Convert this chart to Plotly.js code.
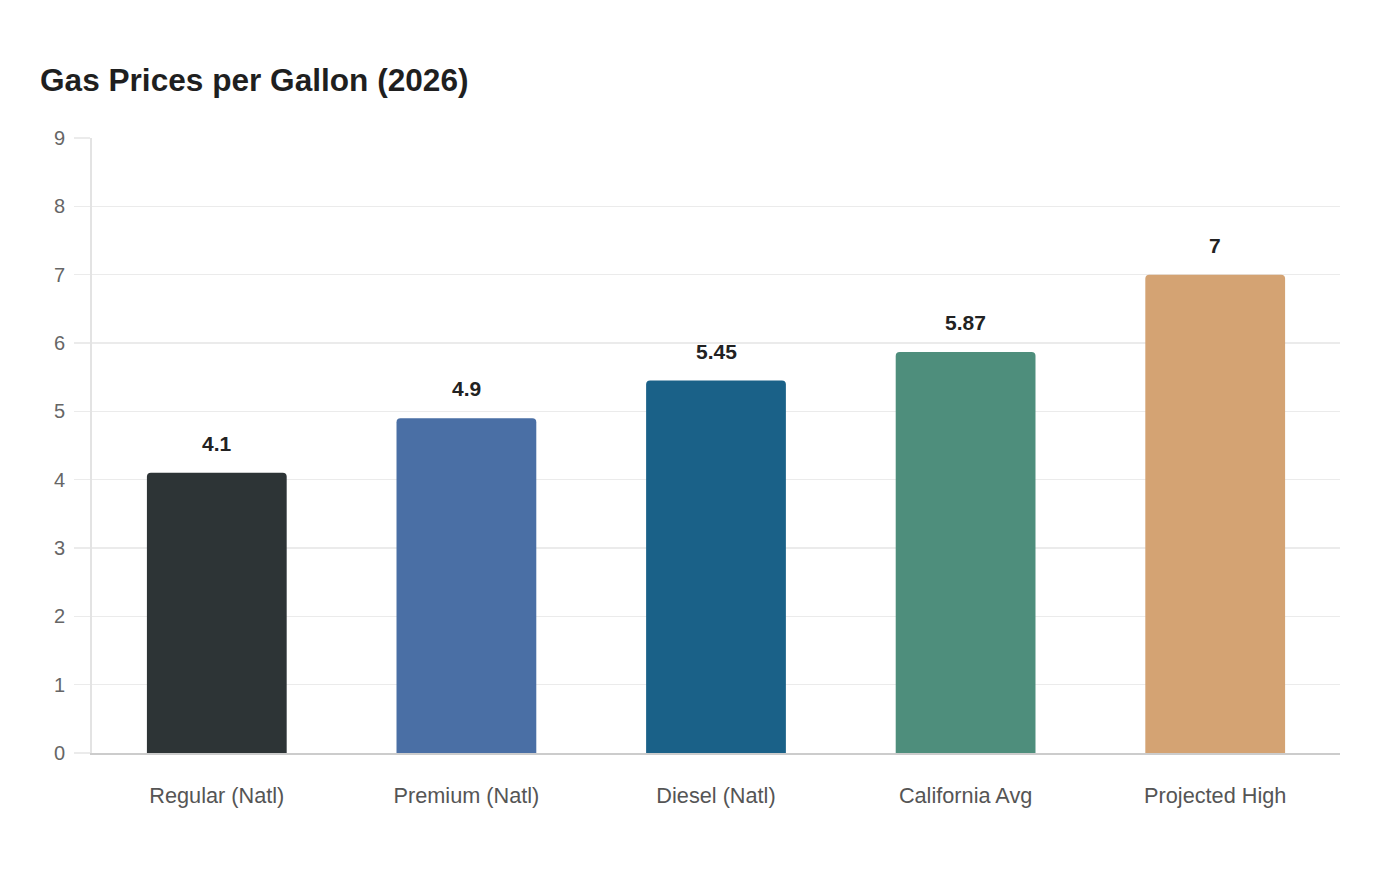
<!DOCTYPE html>
<html>
<head>
<meta charset="utf-8">
<script src="https://cdn.plot.ly/plotly-3.0.1.min.js"></script>
<style>
  html, body { margin: 0; padding: 0; background: #fff; }
  #chart { width: 1400px; height: 880px; }
</style>
</head>
<body>
<div id="chart"></div>
<script>
// data
const categories = ['Regular (Natl)', 'Premium (Natl)', 'Diesel (Natl)', 'California Avg', 'Projected High'];
const prices = [4.1, 4.9, 5.45, 5.87, 7];
const barColors = ['#2d3436', '#4a6fa5', '#1a6188', '#4e8e7c', '#d4a373'];

// value labels above each bar
const labels = categories.map((c, i) => ({
    x: c,
    y: prices[i],
    text: String(prices[i]),
    showarrow: false,
    yanchor: 'bottom',
    yshift: 16,
    font: { family: 'Liberation Sans, Arial, sans-serif', size: 21, color: '#222222', weight: 'bold' }
}));

const trace = {
    type: 'bar',
    x: categories,
    y: prices,
    marker: { color: barColors, line: { width: 0 } },
    hoverinfo: 'x+y'
};

const layout = {
    width: 1400,
    height: 880,
    paper_bgcolor: '#ffffff',
    plot_bgcolor: '#ffffff',
    margin: { l: 92, r: 60, t: 138, b: 127 },
    font: { family: 'Liberation Sans, Arial, sans-serif' },
    title: {
        text: '<b>Gas Prices per Gallon (2026)</b>',
        x: 40 / 1400, xref: 'container', xanchor: 'left',
        y: 1 - 80 / 880, yref: 'container', yanchor: 'middle',
        font: { size: 31.6, color: '#1f1f1f' }
    },
    bargap: 0.44,
    barcornerradius: 4,
    showlegend: false,
    xaxis: {
        showline: true,
        linecolor: '#cccccc',
        linewidth: 2,
        showgrid: false,
        ticks: '',
        ticklabelstandoff: 22,
        tickfont: { size: 21.7, color: '#555555' }
    },
    yaxis: {
        range: [0, 9],
        dtick: 1,
        showline: true,
        linecolor: '#e3e3e3',
        linewidth: 2,
        gridcolor: '#ebebeb',
        gridwidth: 1.5,
        zeroline: false,
        ticks: 'outside',
        ticklen: 16,
        tickcolor: '#ebebeb',
        tickwidth: 1.5,
        ticklabelstandoff: 5,
        tickfont: { size: 20, color: '#666666' }
    },
    annotations: labels
};

Plotly.newPlot('chart', [trace], layout, { displayModeBar: false, staticPlot: true });
</script>
</body>
</html>
